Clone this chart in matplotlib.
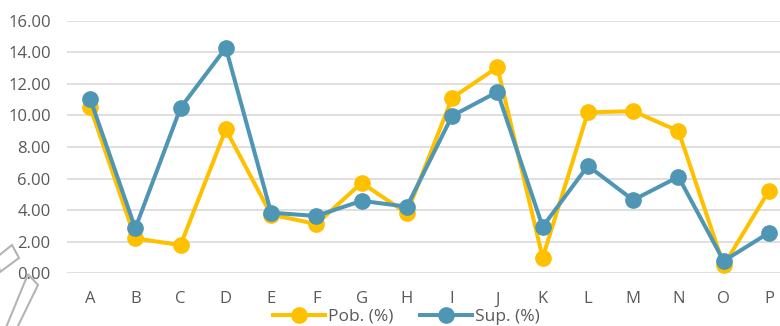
import matplotlib
matplotlib.use("Agg")
import matplotlib.pyplot as plt
from matplotlib.patches import Polygon

# data
categories = list("ABCDEFGHIJKLMNOP")
pob = [10.55, 2.21, 1.79, 9.11, 3.72, 3.12, 5.73, 3.80, 11.11, 13.05,
       0.99, 10.19, 10.27, 9.01, 0.50, 5.23]
sup = [11.07, 2.85, 10.48, 14.28, 3.84, 3.63, 4.59, 4.22, 9.97, 11.49,
       2.95, 6.81, 4.64, 6.11, 0.78, 2.57]
yticks = [0, 2, 4, 6, 8, 10, 12, 14, 16]

YELLOW = "#FFC000"
BLUE = "#4E96B3"
GREY = "#595959"

plt.rcParams["font.family"] = ["Open Sans", "DejaVu Sans"]

fig = plt.figure(figsize=(7.8, 3.26), dpi=100)
# plot area runs past the right edge, as in the reference crop
ax = fig.add_axes([67.4 / 780, 52.7 / 326, 724.2 / 780, 252.6 / 326])

x = range(len(categories))
ax.plot(x, pob, color=YELLOW, lw=2.9, marker="o", ms=11, label="Pob. (%)", zorder=3)
ax.plot(x, sup, color=BLUE, lw=2.9, marker="o", ms=11, label="Sup. (%)", zorder=4)

ax.set_xlim(-0.5, len(categories) - 0.5)
ax.set_ylim(0, 16)
ax.set_yticks(yticks)
ax.set_yticklabels([f"{v:.2f}" for v in yticks])
ax.set_xticks(list(x))
ax.set_xticklabels(categories)
ax.tick_params(axis="both", length=0, labelsize=12, colors=GREY)
ax.tick_params(axis="y", pad=12)
ax.tick_params(axis="x", pad=13)
ax.grid(axis="y", color="#d9d9d9", lw=1.2)
ax.set_axisbelow(True)
for s in ax.spines.values():
    s.set_visible(False)

leg = fig.legend(loc="center", bbox_to_anchor=(0.521, 0.028), ncol=2, frameon=False,
                 fontsize=12.5, handlelength=3.0, columnspacing=1.5, handletextpad=0.2,
                 labelcolor=GREY)

# stray outline shapes in the bottom-left corner of the reference
for pts in ([(-3, 257), (12, 245), (19, 258), (0, 272)],
            [(28, 274), (38, 285), (16, 330), (5, 330)]):
    fig.patches.append(Polygon([(px / 780, 1 - py / 326) for px, py in pts],
                               closed=True, fill=False, ec="#b4b4b4", lw=1.5,
                               transform=fig.transFigure, zorder=0))

fig.savefig("out.png", dpi=100)
